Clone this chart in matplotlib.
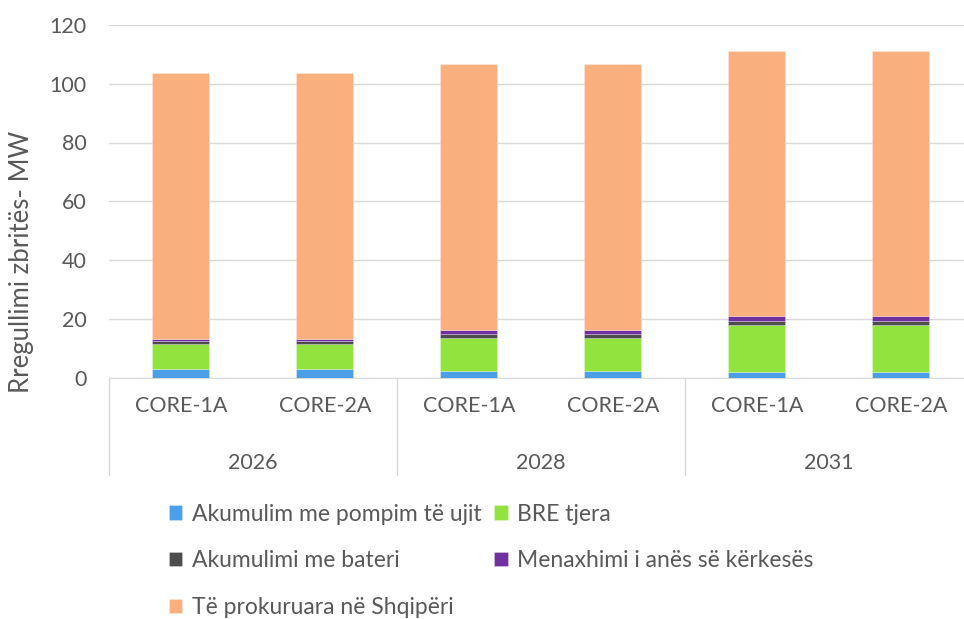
import matplotlib
matplotlib.use("Agg")
import matplotlib.pyplot as plt
import matplotlib.transforms as mtransforms
import numpy as np

years = ["2026", "2028", "2031"]
scenarios = ["CORE-1A", "CORE-2A"]
categories = ["CORE-1A", "CORE-2A", "CORE-1A", "CORE-2A", "CORE-1A", "CORE-2A"]

series_names = ["Akumulim me pompim të ujit", "BRE tjera", "Akumulimi me bateri",
                "Menaxhimi i anës së kërkesës", "Të prokuruara në Shqipëri"]
pumped = [2.8, 2.8, 2.2, 2.2, 1.9, 1.9]
bre = [8.5, 8.5, 11.3, 11.3, 15.9, 15.9]
battery = [1.0, 1.0, 1.4, 1.4, 1.5, 1.5]
demand = [0.9, 0.9, 1.4, 1.4, 1.6, 1.6]
procured = [90.5, 90.5, 90.3, 90.3, 90.2, 90.2]
colors = ["#4A9FE8", "#93E33F", "#4D4D4D", "#7030A0", "#F9AF7E"]

TXT = "#595959"
FS = 15.5
plt.rcParams['font.family'] = ['Lato', 'DejaVu Sans']

W, H = 964, 619
fig = plt.figure(figsize=(W/100, H/100), dpi=100)
left, right, bottom, top = 108.8, 972.8, 377.5, 25
ax = fig.add_axes([left/W, 1 - bottom/H, (right-left)/W, (bottom-top)/H])

x = np.arange(len(categories))
data = [pumped, bre, battery, demand, procured]
base = np.zeros(len(categories))
handles = []
for name, vals, c in zip(series_names, data, colors):
    b = ax.bar(x, vals, bottom=base, width=0.396, color=c, label=name,
               edgecolor=(1, 1, 1, 0.3), linewidth=0.6, zorder=3)
    handles.append(b)
    base = base + np.array(vals)

ax.set_xlim(-0.5, len(categories) - 0.5)
ax.set_ylim(0, 120)
ax.set_yticks(range(0, 121, 20))
ax.yaxis.grid(True, color="#D9D9D9", linewidth=1, zorder=0)
ax.set_axisbelow(True)
for s in ["top", "right", "left"]:
    ax.spines[s].set_visible(False)
ax.spines["bottom"].set_color("#D9D9D9")
ax.tick_params(axis='y', length=0, labelsize=FS, labelcolor=TXT, pad=16)
ax.set_xticks(x)
ax.set_xticklabels(categories)
ax.tick_params(axis='x', length=0, labelsize=FS, labelcolor=TXT, pad=13)

# group labels and separators
trans = mtransforms.blended_transform_factory(ax.transData, ax.transAxes)
axh = bottom - top
ybot = -(475 - bottom) / axh
for i, yr in enumerate(years):
    ax.text(2*i + 0.5, -(463 - bottom) / axh, yr, transform=trans, ha='center', va='center',
            fontsize=FS, color=TXT)
for xs in [-0.5, 1.5, 3.5]:
    ax.plot([xs, xs], [0, ybot], transform=trans, color="#D9D9D9", linewidth=1, clip_on=False)

fig.text(22/W, 1 - 262/H, "Rregullimi zbritës- MW", rotation=90, ha='center', va='center',
         fontsize=18.5, color=TXT)

order = [0, 2, 4, 1, 3]
leg = fig.legend([handles[i] for i in order], [series_names[i] for i in order],
                 loc='upper left', bbox_to_anchor=(148/W, 1 - 483/H), ncol=2, frameon=False,
                 fontsize=16.5, labelcolor=TXT, handlelength=0.6, handleheight=0.6,
                 handletextpad=0.4, columnspacing=0.55, labelspacing=1.12)

fig.savefig("out.png", dpi=100)
